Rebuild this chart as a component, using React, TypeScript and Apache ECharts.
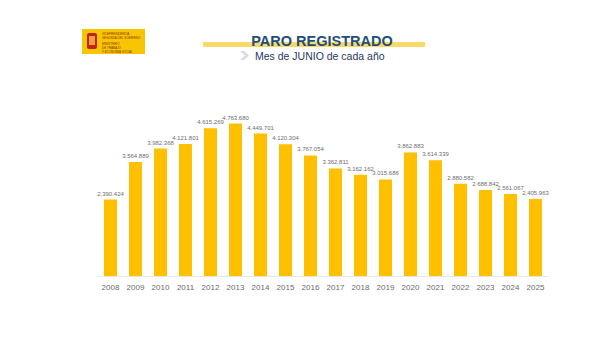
import React, { useEffect, useRef } from "react";
import * as echarts from "echarts";

const years = ["2008","2009","2010","2011","2012","2013","2014","2015","2016","2017","2018","2019","2020","2021","2022","2023","2024","2025"];
const paro = [2390424,3564889,3982368,4121801,4615269,4763680,4449701,4120304,3767054,3362811,3162162,3015686,3862883,3614339,2880582,2688842,2561067,2405963];
const titleText = "PARO REGISTRADO";
const subtitleText = "Mes de JUNIO de cada año";
const logoLines = ["VICEPRESIDENCIA", "SEGUNDA DEL GOBIERNO", "MINISTERIO", "DE TRABAJO", "Y ECONOMÍA SOCIAL"];

const fmt = (v: number) => String(v).replace(/\B(?=(\d{3})+(?!\d))/g, ".");

export default function App() {
  const ref = useRef<HTMLDivElement>(null);
  useEffect(() => {
    const chart = echarts.init(ref.current!, null, { renderer: "svg" });
    chart.setOption({
      animation: false,
      backgroundColor: "#ffffff",
      grid: { left: 98, right: 52, top: 100, bottom: 80 },
      xAxis: {
        type: "category",
        data: years,
        axisLine: { lineStyle: { color: "#e8e8e8", width: 1 } },
        axisTick: { show: false },
        axisLabel: { color: "#6b6b6b", fontSize: 8, fontFamily: "Liberation Sans, Arial, sans-serif", margin: 7 },
      },
      yAxis: {
        type: "value",
        min: 0,
        max: 5500000,
        show: false,
        splitLine: { show: false },
      },
      series: [
        {
          type: "bar",
          data: paro,
          barWidth: 13,
          itemStyle: { color: "#FFC000" },
          label: {
            show: true,
            position: "top",
            distance: 3,
            color: "#6e6e6e",
            fontSize: 6,
            fontFamily: "Liberation Sans, Arial, sans-serif",
            formatter: (p: any) => fmt(p.value),
          },
        },
      ],
      graphic: [
        // logo
        { type: "rect", shape: { x: 82, y: 29, width: 63, height: 25 }, style: { fill: "#F7C600" } },
        { type: "rect", shape: { x: 87, y: 33, width: 10, height: 16, r: 2 }, style: { fill: "#C8201E" } },
        { type: "rect", shape: { x: 89, y: 36, width: 6, height: 9 }, style: { fill: "#E8A33A" } },
        ...logoLines.map((t, i) => ({
          type: "text",
          x: 102,
          y: 32 + i * 4 + (i >= 2 ? 2 : 0),
          style: { text: t, fontSize: 3, fill: "#8a2a1a", fontFamily: "Liberation Sans, Arial, sans-serif" },
        })),
        // title underline
        { type: "rect", shape: { x: 203, y: 42, width: 222, height: 5 }, style: { fill: "#F9D96A" } },
        {
          type: "text",
          x: 322,
          y: 41,
          style: {
            text: titleText,
            fontSize: 14.5,
            fontWeight: "bold",
            fill: "#1F4E79",
            fontFamily: "Liberation Sans, Arial, sans-serif",
            align: "center",
            verticalAlign: "middle",
          },
        },
        {
          type: "polygon",
          shape: { points: [[240, 51], [244, 51], [249, 55.5], [244, 60], [240, 60], [245, 55.5]] },
          style: { fill: "#D6DDE8" },
        },
        {
          type: "text",
          x: 255,
          y: 56,
          style: {
            text: subtitleText,
            fontSize: 10.5,
            fill: "#1F3864",
            fontFamily: "Liberation Sans, Arial, sans-serif",
            align: "left",
            verticalAlign: "middle",
          },
        },
      ],
    });
    return () => chart.dispose();
  }, []);
  return <div ref={ref} style={{ width: 600, height: 356, position: "absolute", left: 0, top: 0 }} />;
}
